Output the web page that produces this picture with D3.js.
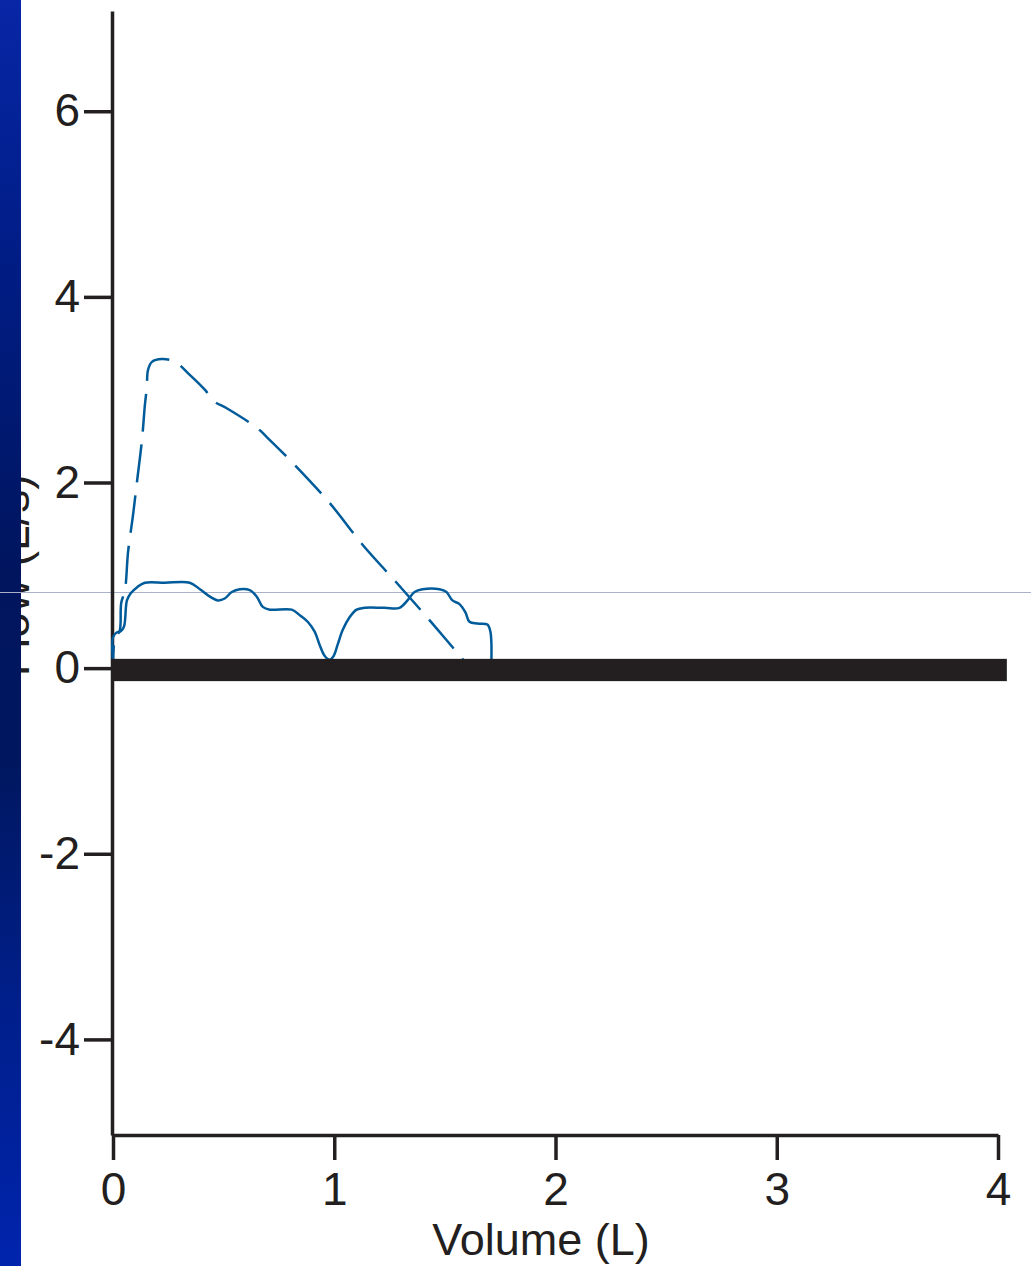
<!DOCTYPE html>
<html>
<head>
<meta charset="utf-8">
<script src="https://cdn.jsdelivr.net/npm/d3@7"></script>
<style>
  html, body { margin: 0; padding: 0; background: #ffffff; }
  svg { display: block; }
  text { font-family: "Liberation Sans", Arial, sans-serif; fill: #231f20; }
</style>
</head>
<body>
<svg id="chart" width="1031" height="1266"></svg>
<script>
// Flow–volume loop: expiratory limb of a forced (dashed) and a tidal/slow (solid) manoeuvre

// Axis ticks
const xTicks = [0, 1, 2, 3, 4];
const xTickLabels = ["0", "1", "2", "3", "4"];
const yTicks = [-4, -2, 0, 2, 4, 6];
const yTickLabels = ["-4", "-2", "0", "2", "4", "6"];

// Forced expiration (dashed): volume (L), flow (L/s)
const forcedVolume = [0, 0.01, 0.03, 0.037, 0.054, 0.068, 0.09, 0.108, 0.131, 0.144, 0.153, 0.158, 0.176, 0.221, 0.28, 0.347, 0.415, 0.46, 0.514, 0.65, 0.695, 0.821, 0.979, 1.128, 1.282, 1.444, 1.597];
const forcedFlow   = [0.05, 0.33, 0.40, 0.70, 0.84, 1.25, 1.64, 2.0, 2.46, 2.83, 3.03, 3.21, 3.30, 3.33, 3.30, 3.16, 3.0, 2.87, 2.80, 2.59, 2.49, 2.19, 1.78, 1.33, 0.92, 0.48, 0.05];

// Slow expiration (solid): volume (L), flow (L/s)
const slowVolume = [0, 0, 0.014, 0.036, 0.05, 0.063, 0.081, 0.108, 0.144, 0.235, 0.347, 0.393, 0.438, 0.474, 0.505, 0.537, 0.573, 0.618, 0.65, 0.677, 0.709, 0.808, 0.844, 0.88, 0.912, 0.934, 0.957, 0.979, 0.997, 1.015, 1.038, 1.07, 1.101, 1.137, 1.227, 1.295, 1.331, 1.363, 1.399, 1.476, 1.507, 1.534, 1.566, 1.593, 1.611, 1.647, 1.692, 1.706, 1.71];
const slowFlow   = [0.05, 0.33, 0.38, 0.40, 0.45, 0.73, 0.81, 0.87, 0.92, 0.92, 0.92, 0.85, 0.77, 0.73, 0.75, 0.82, 0.85, 0.84, 0.77, 0.66, 0.63, 0.63, 0.57, 0.50, 0.39, 0.25, 0.13, 0.09, 0.13, 0.25, 0.41, 0.55, 0.63, 0.65, 0.65, 0.65, 0.73, 0.82, 0.85, 0.85, 0.82, 0.73, 0.69, 0.60, 0.50, 0.48, 0.47, 0.39, 0.05];

// Heavy zero-flow band along the volume axis
const zeroBandVolume = [0, 4.04];
const zeroBandFlow = [-0.14, 0.1];

// Faint reference rule
const referenceFlow = 0.82;

const svg = d3.select("#chart");
const W = 1031, H = 1266;

const x = d3.scaleLinear().domain([0, 4]).range([113, 998]);
const y = d3.scaleLinear().domain([-5.03, 7.08]).range([1135, 11]);

const ink = "#231f20";
const curveBlue = "#005b9a";

// Rotated y-axis title (partly tucked under the side bar)
svg.append("text")
  .attr("transform", `translate(29, ${y(1.0)}) rotate(-90)`)
  .attr("text-anchor", "middle")
  .attr("font-size", 46)
  .text("Flow (L/s)");

// Side bar with vertical gradient
const defs = svg.append("defs");
const grad = defs.append("linearGradient")
  .attr("id", "sideBar").attr("x1", 0).attr("y1", 0).attr("x2", 0).attr("y2", 1);
[[0, "#0826a6"], [0.2, "#001d86"], [0.45, "#00155e"], [0.6, "#00175f"], [0.8, "#001f8c"], [1, "#0024ad"]]
  .forEach(([o, c]) => grad.append("stop").attr("offset", o).attr("stop-color", c));
svg.append("rect").attr("x", 0).attr("y", 0).attr("width", 21).attr("height", H)
  .attr("fill", "url(#sideBar)");

// Faint horizontal rule across the page
svg.append("line")
  .attr("x1", 0).attr("x2", W)
  .attr("y1", Math.round(y(referenceFlow)) + 0.5).attr("y2", Math.round(y(referenceFlow)) + 0.5)
  .attr("stroke", "#a9b2c8").attr("stroke-width", 1);

// Axes
const yAxis = d3.axisLeft(y)
  .tickValues(yTicks)
  .tickFormat((d, i) => yTickLabels[i])
  .tickSize(28).tickSizeOuter(0).tickPadding(4);
const gy = svg.append("g").attr("transform", `translate(${x(0) - 1},0)`).call(yAxis);

const xAxis = d3.axisBottom(x)
  .tickValues(xTicks)
  .tickFormat((d, i) => xTickLabels[i])
  .tickSize(25).tickSizeOuter(0).tickPadding(12);
const gx = svg.append("g").attr("transform", `translate(0,${y(-5.03)})`).call(xAxis);

[gx, gy].forEach(g => {
  g.selectAll(".domain").attr("stroke", ink).attr("stroke-width", 3.5);
  g.selectAll(".tick line").attr("stroke", ink).attr("stroke-width", 3.5);
  g.selectAll(".tick text")
    .attr("font-family", '"Liberation Sans", Arial, sans-serif')
    .attr("font-size", 46).attr("fill", ink);
});

// x-axis title
svg.append("text")
  .attr("x", 541).attr("y", 1255)
  .attr("text-anchor", "middle")
  .attr("font-size", 45)
  .text("Volume (L)");

// Curves
const line = d3.line()
  .x(d => x(d[0]))
  .y(d => y(d[1]))
  .curve(d3.curveCatmullRom.alpha(0.5));

svg.append("path")
  .datum(forcedVolume.map((v, i) => [v, forcedFlow[i]]))
  .attr("d", line)
  .attr("fill", "none")
  .attr("stroke", curveBlue)
  .attr("stroke-width", 2.5)
  .attr("stroke-dasharray", "38,13")
  .attr("stroke-dashoffset", 20);

svg.append("path")
  .datum(slowVolume.map((v, i) => [v, slowFlow[i]]))
  .attr("d", line)
  .attr("fill", "none")
  .attr("stroke", curveBlue)
  .attr("stroke-width", 2.5);

// Zero-flow band
svg.append("rect")
  .attr("x", x(zeroBandVolume[0]) - 2)
  .attr("width", x(zeroBandVolume[1]) - x(zeroBandVolume[0]) + 2)
  .attr("y", y(zeroBandFlow[1]))
  .attr("height", y(zeroBandFlow[0]) - y(zeroBandFlow[1]))
  .attr("fill", ink);
</script>
</body>
</html>
